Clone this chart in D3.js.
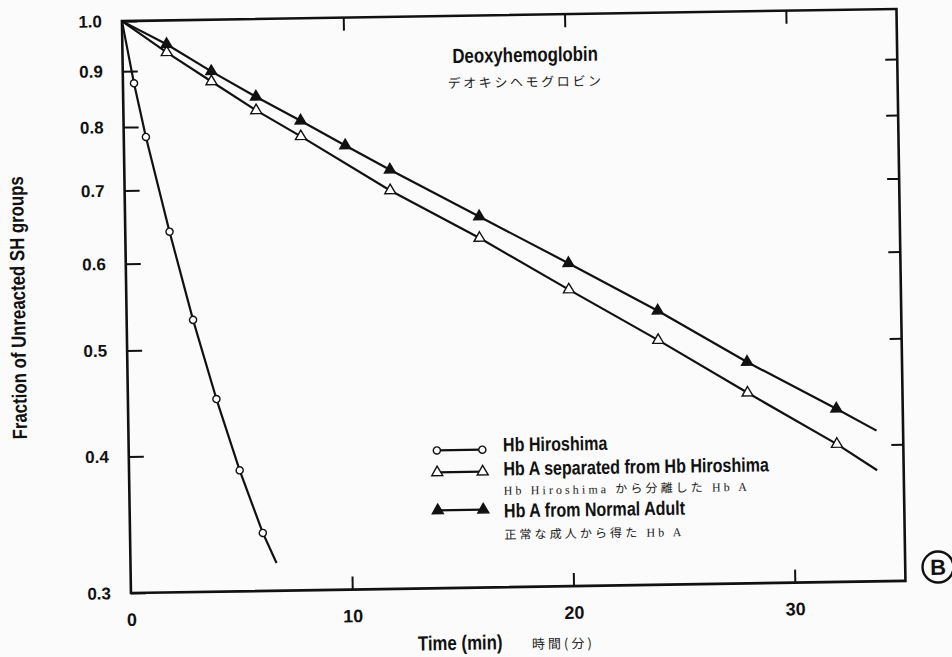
<!DOCTYPE html>
<html>
<head>
<meta charset="utf-8">
<script src="https://cdn.jsdelivr.net/npm/d3@7"></script>
<style>
  html, body { margin: 0; padding: 0; background: #fbfbfb; }
  svg { display: block; }
</style>
</head>
<body>
<svg id="chart" width="952" height="657"></svg>
<script>
// ---- data -------------------------------------------------------------
const timeLabelTicks = [0, 10, 20, 30];
const timeInnerTicks = [10, 20, 30];
const fractionTicks = [1.0, 0.9, 0.8, 0.7, 0.6, 0.5, 0.4, 0.3];

// Hb Hiroshima (open circles); first and last entries are line ends only
const hiroshimaTime     = [0, 0.5, 1, 2, 3, 4, 5, 6, 6.6];
const hiroshimaFrac     = [1.0, 0.877, 0.783, 0.641, 0.532, 0.450, 0.387, 0.339, 0.318];
const hiroshimaMeasured = [false, true, true, true, true, true, true, true, false];

// Hb A separated from Hb Hiroshima (open triangles)
const separatedTime     = [0, 2, 4, 6, 8, 12, 16, 20, 24, 28, 32, 33.8];
const separatedFrac     = [1.0, 0.935, 0.878, 0.825, 0.780, 0.694, 0.626, 0.560, 0.502, 0.448, 0.401, 0.379];
const separatedMeasured = [false, true, true, true, true, true, true, true, true, true, true, false];

// Hb A from normal adult (filled triangles)
const normalTime     = [0, 2, 4, 6, 8, 10, 12, 16, 20, 24, 28, 32, 33.8];
const normalFrac     = [1.0, 0.951, 0.897, 0.849, 0.806, 0.764, 0.725, 0.655, 0.592, 0.534, 0.478, 0.432, 0.412];
const normalMeasured = [false, true, true, true, true, true, true, true, true, true, true, true, false];

const legendLabels = ["Hb Hiroshima", "Hb A separated from Hb Hiroshima", "Hb A from Normal Adult"];
const legendNotes  = [null, "Hb Hiroshima から分離した Hb A", "正常な成人から得た Hb A"];

// ---- layout -----------------------------------------------------------
const frame = { left: 126.4, right: 901, top: 15, bottom: 587 };
const tilt = { angle: -0.9, cx: 513.75, cy: 301 };

const svg = d3.select("#chart");
const root = svg.append("g")
  .attr("transform", `rotate(${tilt.angle},${tilt.cx},${tilt.cy})`);

const x = d3.scaleLinear().domain([0, 35]).range([frame.left, frame.right]);
const y = d3.scaleLog().domain([0.3, 1.0]).range([frame.bottom, frame.top]);

// ---- condensed bold face (falls back to a horizontally squeezed sans) --
function probeWidth(family) {
  const t = svg.append("text")
    .attr("font-family", family).attr("font-weight", "bold").attr("font-size", 20)
    .text("Deoxyhemoglobin");
  const w = t.node().getComputedTextLength();
  t.remove();
  return w;
}
const narrowW = probeWidth("'Liberation Sans Narrow', 'Liberation Sans'");
const wideW = probeWidth("'Liberation Sans'");
const hasNarrow = narrowW < wideW * 0.92;
const condFamily = hasNarrow ? "'Liberation Sans Narrow'" : "'Liberation Sans'";
const condScale = hasNarrow ? 1 : 0.82;

function condText(parent, px, py, str, size, anchor = "start", rot = 0) {
  const g = parent.append("g")
    .attr("transform", `translate(${px},${py}) rotate(${rot}) scale(${condScale},1)`);
  g.append("text")
    .attr("font-family", condFamily)
    .attr("font-weight", "bold")
    .attr("font-size", size)
    .attr("text-anchor", anchor)
    .attr("fill", "#111")
    .text(str);
  return g;
}

function jpText(parent, px, py, str, size, spacing, anchor = "start", family) {
  return parent.append("text")
    .attr("x", px).attr("y", py)
    .attr("font-family", family || "'Noto Sans CJK JP', sans-serif")
    .attr("font-size", size)
    .attr("letter-spacing", spacing)
    .attr("text-anchor", anchor)
    .attr("fill", "#222")
    .text(str);
}

// ---- axes (ticks point inward, frame drawn separately) ----------------
const ink = "#111";

function styleAxis(g, fontSize) {
  g.select(".domain").remove();
  g.selectAll(".tick line").attr("stroke", ink).attr("stroke-width", 2);
  g.selectAll(".tick text")
    .attr("fill", ink)
    .attr("font-family", "'Liberation Sans', Arial, sans-serif")
    .attr("font-weight", "bold")
    .attr("font-size", fontSize);
}

root.append("g")
  .attr("transform", `translate(${frame.left},0)`)
  .call(d3.axisLeft(y).tickValues(fractionTicks).tickFormat(d3.format(".1f"))
    .tickSizeInner(-15).tickSizeOuter(0).tickPadding(20))
  .call(g => styleAxis(g, 17));

root.append("g")
  .attr("transform", `translate(${frame.right},0)`)
  .call(d3.axisRight(y).tickValues(fractionTicks.slice(1, -1)).tickFormat(() => "")
    .tickSizeInner(-12).tickSizeOuter(0))
  .call(g => styleAxis(g, 17));

root.append("g")
  .attr("transform", `translate(0,${frame.bottom})`)
  .call(d3.axisBottom(x).tickValues(timeLabelTicks).tickFormat(d3.format("d"))
    .tickSizeInner(-13).tickSizeOuter(0).tickPadding(20))
  .call(g => styleAxis(g, 18))
  .call(g => g.selectAll(".tick").filter(d => d === 0).select("line").remove());

root.append("g")
  .attr("transform", `translate(0,${frame.top})`)
  .call(d3.axisTop(x).tickValues(timeInnerTicks).tickFormat(() => "")
    .tickSizeInner(-13).tickSizeOuter(0))
  .call(g => styleAxis(g, 18));

root.append("rect")
  .attr("x", frame.left).attr("y", frame.top)
  .attr("width", frame.right - frame.left).attr("height", frame.bottom - frame.top)
  .attr("fill", "none").attr("stroke", ink).attr("stroke-width", 2.6);

// ---- series -----------------------------------------------------------
function toPoints(ts, fs, flags) {
  return ts.map((t, i) => ({ t, f: fs[i], measured: flags[i] }));
}
const series = [
  { points: toPoints(hiroshimaTime, hiroshimaFrac, hiroshimaMeasured), marker: "circle", fill: "#fff" },
  { points: toPoints(separatedTime, separatedFrac, separatedMeasured), marker: "triangle", fill: "#fff" },
  { points: toPoints(normalTime, normalFrac, normalMeasured), marker: "triangle", fill: ink }
];

const line = d3.line().x(d => x(d.t)).y(d => y(d.f));
const circleSym = d3.symbol().type(d3.symbolCircle).size(40);
const triSym = d3.symbol().type(d3.symbolTriangle).size(52);

function drawMarker(parent, px, py, s) {
  parent.append("path")
    .attr("d", s.marker === "circle" ? circleSym() : triSym())
    .attr("transform", `translate(${px},${py})`)
    .attr("fill", s.fill)
    .attr("stroke", ink)
    .attr("stroke-width", 1.4);
}

const plot = root.append("g");
series.forEach(s => {
  plot.append("path")
    .attr("d", line(s.points))
    .attr("fill", "none")
    .attr("stroke", ink)
    .attr("stroke-width", 2.2)
    .attr("stroke-linejoin", "round");
});
series.forEach(s => {
  s.points.filter(p => p.measured).forEach(p => drawMarker(plot, x(p.t), y(p.f), s));
});

// ---- title ------------------------------------------------------------
condText(root, 529, 62, "Deoxyhemoglobin", 20.5, "middle");
jpText(root, 529, 87, "デオキシヘモグロビン", 13, 2.6, "middle");

// ---- legend -----------------------------------------------------------
const legend = root.append("g");
const legendRows = [449.2, 471.2, 509.2];
const legendTextY = [451.3, 475.3, 517.3];
const legendNoteY = [null, 494.6, 538.8];
const lx0 = 434.5, lx1 = 480, ltx = 500.7;

series.forEach((s, i) => {
  const ly = legendRows[i];
  legend.append("line")
    .attr("x1", lx0).attr("x2", lx1).attr("y1", ly).attr("y2", ly)
    .attr("stroke", ink).attr("stroke-width", 2.2);
  drawMarker(legend, lx0, ly, s);
  drawMarker(legend, lx1, ly, s);
  condText(legend, ltx, legendTextY[i], legendLabels[i], 19.6);
  if (legendNotes[i]) {
    jpText(legend, ltx, legendNoteY[i], legendNotes[i], 12, 3.1, "start",
      "'Liberation Serif', 'Noto Sans CJK JP', serif");
  }
});

// ---- axis titles ------------------------------------------------------
condText(root, 412.5, 649, "Time (min)", 20.5);
jpText(root, 526.6, 649, "時間(分)", 13, 3);
condText(root, 25, 300, "Fraction of Unreacted SH groups", 20.5, "middle", -90);

// ---- panel badge ------------------------------------------------------
root.append("circle")
  .attr("cx", 933.8).attr("cy", 573.7).attr("r", 15.5)
  .attr("fill", "none").attr("stroke", ink).attr("stroke-width", 2.4);
root.append("text")
  .attr("x", 933.8).attr("y", 581.5)
  .attr("text-anchor", "middle")
  .attr("font-family", "'Liberation Sans', Arial, sans-serif")
  .attr("font-weight", "bold").attr("font-size", 22)
  .attr("fill", ink)
  .text("B");
</script>
</body>
</html>
